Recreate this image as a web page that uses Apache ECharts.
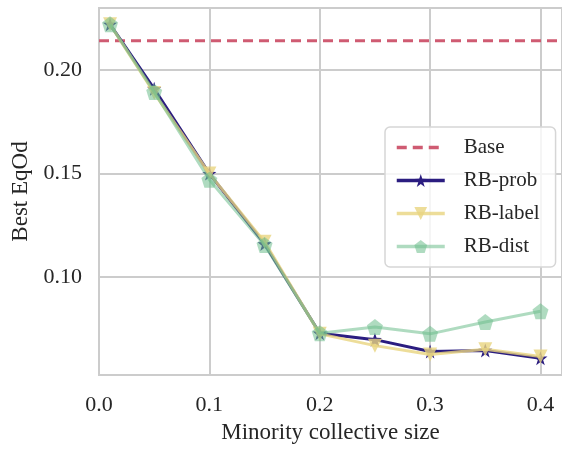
<!DOCTYPE html>
<html>
<head>
<meta charset="utf-8">
<script src="https://cdn.jsdelivr.net/npm/echarts@6/dist/echarts.min.js"></script>
<style>
html, body { margin: 0; padding: 0; background: #fff; }
#chart { width: 562px; height: 449px; }
</style>
</head>
<body>
<div id="chart"></div>
<script>
// minority collective sizes
var sizes = [0.01, 0.05, 0.1, 0.15, 0.2, 0.25, 0.3, 0.35, 0.4];
var rbProb = [0.2222, 0.1910, 0.1500, 0.1160, 0.0728, 0.0697, 0.0640, 0.0645, 0.0607];
var rbLabel = [0.2222, 0.1890, 0.1500, 0.1170, 0.0725, 0.0668, 0.0625, 0.0650, 0.0615];
var rbDist = [0.2222, 0.1895, 0.1470, 0.1155, 0.0728, 0.0758, 0.0725, 0.0782, 0.0834];
var baseValue = 0.2142;
var xTicks = [0, 0.1, 0.2, 0.3, 0.4];
var yTicks = [0.10, 0.15, 0.20];

var xMin = 0, xMax = 0.4195;
var yMin = 0.0526, yMax = 0.2301;

function pairs(vals) {
	return sizes.map(function (s, i) { return [s, vals[i]]; });
}

var FONT = '"Liberation Serif", "DejaVu Serif", serif';
var starPath = 'path://M50,0 L61.8,35.5 L100,36.3 L69.1,59.5 L80.9,95.5 L50,73.7 L19.1,95.5 L30.9,59.5 L0,36.3 L38.2,35.5 Z';
var pentPath = 'path://M50,0 L100,36.3 L80.9,95.1 L19.1,95.1 L0,36.3 Z';

var chart = echarts.init(document.getElementById('chart'));
var option = {
	animation: false,
	backgroundColor: '#ffffff',
	textStyle: { fontFamily: FONT },
	grid: {
		left: 99, top: 8, width: 466, height: 375, containLabel: false,
		show: true, borderColor: '#cccccc', borderWidth: 2
	},
	legend: {
		orient: 'vertical',
		left: 385,
		top: 127,
		padding: [10, 16, 10, 10],
		itemWidth: 48,
		itemHeight: 16,
		itemGap: 12,
		backgroundColor: 'rgba(255,255,255,0.8)',
		borderColor: '#d6d6d6',
		borderWidth: 1.5,
		borderRadius: 5,
		lineStyle: { width: 3.5 },
		textStyle: { fontFamily: FONT, fontSize: 21, color: '#262626', lineHeight: 20, padding: [0, 0, 0, 14] },
		data: [
			{ name: 'Base', itemStyle: { color: 'rgba(0,0,0,0)', opacity: 0 } },
			'RB-prob', 'RB-label', 'RB-dist'
		]
	},
	xAxis: {
		type: 'value',
		min: xMin,
		max: xMax,
		name: 'Minority collective size',
		nameLocation: 'middle',
		nameGap: 46,
		nameTextStyle: { fontFamily: FONT, fontSize: 23, color: '#262626' },
		axisLine: { show: true, lineStyle: { color: '#cccccc', width: 2 } },
		axisTick: { show: false, customValues: xTicks },
		axisLabel: {
			customValues: xTicks,
			fontFamily: FONT, fontSize: 22, color: '#262626', margin: 19,
			formatter: function (v) { return v.toFixed(1); }
		},
		splitLine: { show: true, lineStyle: { color: '#cccccc', width: 2 } }
	},
	yAxis: {
		type: 'value',
		min: yMin,
		max: yMax,
		name: 'Best EqOd',
		nameLocation: 'middle',
		nameGap: 56,
		nameTextStyle: { fontFamily: FONT, fontSize: 23, color: '#262626' },
		axisLine: { show: true, lineStyle: { color: '#cccccc', width: 2 } },
		axisTick: { show: false, customValues: yTicks },
		axisLabel: {
			customValues: yTicks,
			fontFamily: FONT, fontSize: 22, color: '#262626', margin: 17,
			formatter: function (v) { return v.toFixed(2); }
		},
		splitLine: { show: true, lineStyle: { color: '#cccccc', width: 2 } }
	},
	series: [
		{
			name: 'Base',
			type: 'line',
			data: [[xMin, baseValue], [xMax, baseValue]],
			symbol: 'none',
			color: '#cf5b72',
			lineStyle: { color: '#cf5b72', width: 3, type: [10, 6] },
			z: 2
		},
		{
			name: 'RB-prob',
			type: 'line',
			data: pairs(rbProb),
			symbol: starPath,
			symbolSize: 14,
			color: '#2b1d80',
			itemStyle: { color: '#2b1d80' },
			lineStyle: { color: '#2b1d80', width: 3 },
			z: 3
		},
		{
			name: 'RB-label',
			type: 'line',
			data: pairs(rbLabel),
			symbol: 'triangle',
			symbolRotate: 180,
			symbolSize: 14,
			color: 'rgba(232,212,128,0.8)',
			itemStyle: { color: 'rgba(232,212,128,0.8)' },
			lineStyle: { color: 'rgba(232,212,128,0.8)', width: 3 },
			z: 4
		},
		{
			name: 'RB-dist',
			type: 'line',
			data: pairs(rbDist),
			symbol: pentPath,
			symbolSize: 16,
			color: 'rgba(110,190,140,0.55)',
			itemStyle: { color: 'rgba(110,190,140,0.55)' },
			lineStyle: { color: 'rgba(110,190,140,0.55)', width: 3 },
			z: 5
		}
	]
};
chart.setOption(option);
</script>
</body>
</html>
